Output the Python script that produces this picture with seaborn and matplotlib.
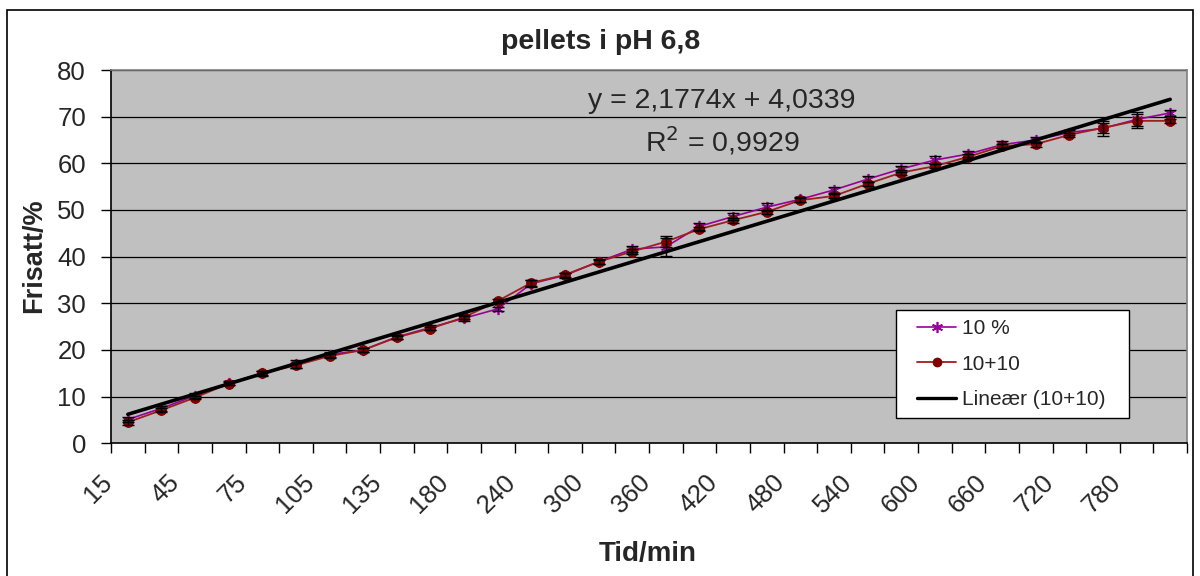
import numpy as np
import pandas as pd
import matplotlib
matplotlib.use("Agg")
import matplotlib.pyplot as plt
import seaborn as sns
from matplotlib.lines import Line2D
from matplotlib.patches import Rectangle
from matplotlib.legend_handler import HandlerLine2D

# ---------------- data ----------------
time_min = [15, 30, 45, 60, 75, 90, 105, 120, 135, 150, 180, 210, 240, 270, 300, 330,
            360, 390, 420, 450, 480, 510, 540, 570, 600, 630, 660, 690, 720, 750, 780, 810]
released_10pct = [5.1, 7.5, 10.2, 12.9, 15.0, 17.0, 19.0, 20.0, 22.8, 24.8, 26.8, 28.8,
                  34.2, 36.0, 38.9, 41.6, 42.1, 46.5, 48.6, 50.6, 52.3, 54.3, 56.6, 58.8,
                  60.7, 62.0, 64.0, 65.0, 66.6, 67.5, 69.4, 70.8]
released_10p10 = [4.5, 7.1, 9.8, 12.8, 15.0, 16.7, 18.7, 20.0, 22.7, 24.6, 27.0, 30.5,
                  34.4, 36.1, 38.9, 41.1, 43.2, 45.9, 47.8, 49.6, 52.1, 53.0, 55.6, 58.0,
                  59.4, 61.4, 63.7, 64.1, 66.1, 67.6, 69.1, 69.1]
err_10pct = [0.6, 0.5, 0.5, 0.5, 0.5, 0.9, 0.6, 0.5, 0.5, 0.5, 0.5, 0.5, 0.8, 0.5, 0.5, 0.7,
             2.0, 0.7, 0.8, 0.8, 0.5, 0.6, 0.7, 0.7, 0.8, 0.6, 0.7, 0.6, 0.6, 1.6, 1.5, 0.6]
err_10p10 = [0.5, 0.4, 0.4, 0.4, 0.4, 0.5, 0.4, 0.4, 0.4, 0.4, 0.4, 0.4, 0.6, 0.4, 0.4, 0.5,
             1.2, 0.5, 0.5, 0.5, 0.4, 0.5, 0.5, 0.5, 0.5, 0.5, 0.5, 0.5, 0.5, 1.0, 1.5, 0.5]
trend_slope = 2.1774
trend_intercept = 4.0339
trend_r2 = 0.9929

series_names = ["10 %", "10+10", "Lineær (10+10)"]
title_text = "pellets i pH 6,8"
xlabel_text = "Tid/min"
ylabel_text = "Frisatt/%"

# ---------------- style ----------------
sns.set_theme(style="white")
plt.rcParams["font.family"] = ["Liberation Sans", "DejaVu Sans"]

W, H, DPI = 1200, 576, 100
fig = plt.figure(figsize=(W / DPI, H / DPI), dpi=DPI)
fig.patch.set_facecolor("white")

L, R, T, B = 111, 1187, 70, 443.3
ax = fig.add_axes([L / W, 1 - B / H, (R - L) / W, (B - T) / H])
ax.set_facecolor("#C0C0C0")

idx = np.arange(1, len(time_min) + 1)
df = pd.DataFrame({"idx": idx, "a": released_10pct, "b": released_10p10})

purple = "#990099"
red_line = "#A01E1E"
red_mark = "#800000"
asterisk = (6, 2, 0)

# gridlines
for yv in range(10, 81, 10):
    ax.axhline(yv, color="black", lw=0.9, zorder=1)

sns.lineplot(data=df, x="idx", y="a", ax=ax, color=purple, lw=1.2, marker=asterisk,
             markersize=8, markeredgecolor=purple, markeredgewidth=1.2, zorder=3)
sns.lineplot(data=df, x="idx", y="b", ax=ax, color=red_line, lw=1.3, marker="o",
             markersize=7, markerfacecolor=red_mark, markeredgecolor=red_mark, zorder=4)

ax.errorbar(idx, released_10pct, yerr=err_10pct, fmt="none", ecolor="black",
            elinewidth=1, capsize=4, capthick=1, zorder=5)
ax.errorbar(idx, released_10p10, yerr=err_10p10, fmt="none", ecolor="black",
            elinewidth=1, capsize=4, capthick=1, zorder=5)

trend_y = trend_slope * idx + trend_intercept
sns.lineplot(x=idx, y=trend_y, ax=ax, color="black", lw=2.6, zorder=6)

ax.set_xlim(0.5, len(time_min) + 0.5)
ax.set_ylim(0, 80)

# x ticks: labels every other category (Excel puts the label end a little left of
# the category centre), tick marks between categories
lab_pos = idx[::2]
label_offset = 0.42  # category units
ax.set_xticks(lab_pos - label_offset)
ax.set_xticklabels([str(time_min[i - 1]) for i in lab_pos], rotation=45, ha="right",
                   va="baseline", rotation_mode="anchor", fontsize=18.5)
ax.set_xticks(np.arange(0.5, len(time_min) + 1, 1), minor=True)
ax.tick_params(axis="x", which="major", length=0, pad=29)
ax.tick_params(axis="x", which="minor", length=7, width=1, color="black", direction="out")
ax.xaxis.set_tick_params(which="both", bottom=True)

ax.set_yticks(range(0, 81, 10))
ax.set_yticklabels([str(v) for v in range(0, 81, 10)], fontsize=18.5)
ax.tick_params(axis="y", length=7, width=1, color="black", direction="out", left=True, pad=11)

for s in ["top", "right"]:
    ax.spines[s].set_color("#808080")
    ax.spines[s].set_linewidth(1.2)
for s in ["left", "bottom"]:
    ax.spines[s].set_color("black")
    ax.spines[s].set_linewidth(1.2)

ax.set_xlabel("")
ax.set_ylabel("")

# labels and title (figure coordinates)
fig.text(601 / W, 1 - 42 / H, title_text, ha="center", va="center", fontsize=20.5,
         fontweight="bold")
fig.text(648 / W, 1 - 554 / H, xlabel_text, ha="center", va="center", fontsize=20,
         fontweight="bold")
fig.text(34 / W, 1 - 256 / H, ylabel_text, ha="center", va="center", fontsize=19.5,
         fontweight="bold", rotation=90)

eq = "y = {:.4f}x + {:.4f}".format(trend_slope, trend_intercept).replace(".", ",")
r2 = "R$^2$ = {:.4f}".format(trend_r2).replace(".", ",")
fig.text(722 / W, 1 - 101 / H, eq, ha="center", va="center", fontsize=20.5)
fig.text(722 / W, 1 - 141 / H, r2, ha="center", va="center", fontsize=20.5)

# legend
handles = [
    Line2D([], [], color=purple, lw=1.2, marker=asterisk, markersize=8,
           markeredgecolor=purple, markeredgewidth=1.2),
    Line2D([], [], color=red_line, lw=1.3, marker="o", markersize=6,
           markerfacecolor=red_mark, markeredgecolor=red_mark),
    Line2D([], [], color="black", lw=2.4),
]
x0 = (896 - L) / (R - L)
y1 = (B - 310) / (B - T)
y0 = (B - 426) / (B - T)
w_leg = (1129 - 896) / (R - L)
leg = ax.legend(handles, series_names, loc="upper left",
                bbox_to_anchor=(x0, y0, w_leg, y1 - y0), mode="expand",
                fontsize=15, frameon=True, fancybox=False, framealpha=1,
                edgecolor="black", facecolor="white", handlelength=2.45,
                borderpad=0.45, labelspacing=0.78, handletextpad=0.25, borderaxespad=0,
                handler_map={Line2D: HandlerLine2D(xpad=0.55)})
leg.get_frame().set_linewidth(1)
leg.set_zorder(10)

# outer chart border
fig.patches.append(Rectangle((7 / W, -0.05), (W - 14) / W, 1 - 10 / H + 0.05,
                             transform=fig.transFigure, fill=False, edgecolor="black",
                             lw=1.2))

fig.savefig("out.png", dpi=DPI)
